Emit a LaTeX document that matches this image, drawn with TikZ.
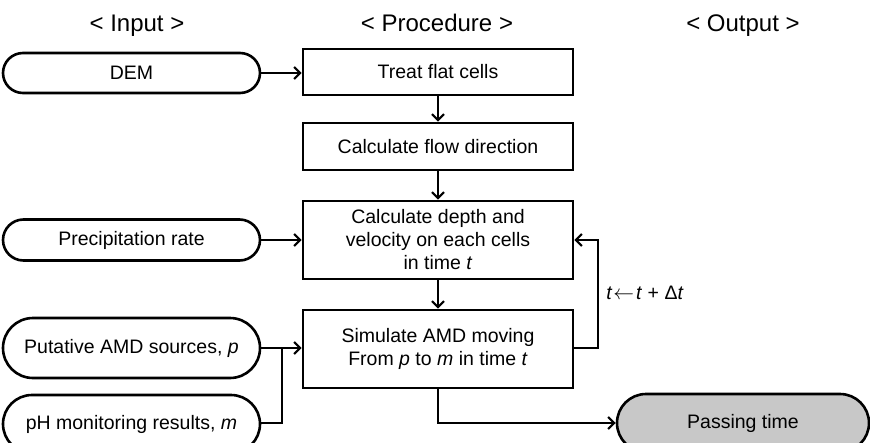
\documentclass[tikz,border=0pt]{standalone}
\usepackage{fontspec}
\setmainfont{Liberation Sans}
\usetikzlibrary{shapes.misc,arrows.meta}
\begin{document}
\begin{tikzpicture}[x=1pt,y=-1pt,
  lw/.style={line width=2.6pt},
  inbox/.style={rounded rectangle, draw, lw, minimum width=257pt, inner sep=0pt, font=\fontsize{19.5}{23}\selectfont},
  procbox/.style={rectangle, draw, lw, minimum width=270pt, inner sep=0pt, align=center, font=\fontsize{19.5}{23}\selectfont},
  hdr/.style={font=\fontsize{24}{27}\selectfont, anchor=base},
  conn/.style={lw, -{Straight Barb[length=6pt,width=12pt,line width=2.2pt]}},
  line/.style={lw}
]
\useasboundingbox (0,0) rectangle (870,442);
\begin{scope}
\clip (0,0) rectangle (870,442);
% headers
\node[hdr] (hin) at (137,31) {< Input >};
\node[hdr] (hproc) at (437,31) {< Procedure >};
\node[hdr] (hout) at (743,31) {< Output >};
% inputs
\node[inbox, minimum height=40pt] (dem) at (131.5,73) {DEM};
\node[inbox, minimum height=41pt] (prec) at (131.5,240) {Precipitation rate};
\node[inbox, minimum height=60pt] (put) at (131.5,348) {Putative AMD sources, \textit{p}};
\node[inbox, minimum height=58pt] (ph) at (131.5,424) {pH monitoring results, \textit{m}};
% procedure
\node[procbox, minimum height=46pt] (treat) at (438,72) {Treat flat cells};
\node[procbox, minimum height=47pt] (flow) at (438,146.5) {Calculate flow direction};
\node[procbox, minimum height=78pt] (depth) at (438,240) {Calculate depth and\\velocity on each cells\\in time \textit{t}};
\node[procbox, minimum height=78pt] (sim) at (438,349) {Simulate AMD moving\\From \textit{p} to \textit{m} in time \textit{t}};
% output
\node[inbox, minimum width=252pt, minimum height=58pt, fill={rgb,255:red,200;green,200;blue,200}] (pass) at (743,423) {Passing time};
% coordinates
\coordinate (jn) at (282,348);
\coordinate (fb) at (598,240);
\coordinate (ob) at (438,423);
% connectors
\draw[conn] (dem.east) -- (treat.west |- dem.east);
\draw[conn] (treat) -- (flow);
\draw[conn] (flow) -- (depth);
\draw[conn] (prec.east) -- (depth.west);
\draw[conn] (depth) -- (sim);
\draw[line] (put.east) -- (jn);
\draw[line] (ph.east |- ob) -| (jn);
\draw[conn] (jn) -- (sim.west |- jn);
\draw[conn] (sim.east |- jn) -| (fb) -- (depth.east);
\draw[conn] (sim.south) |- (pass.west);
\node[font=\fontsize{19.5}{23}\selectfont] (upd) at (645,293) {\textit{t}\kern1pt$\leftarrow$\kern2pt\textit{t} + Δ\textit{t}};
\end{scope}
\end{tikzpicture}
\end{document}
